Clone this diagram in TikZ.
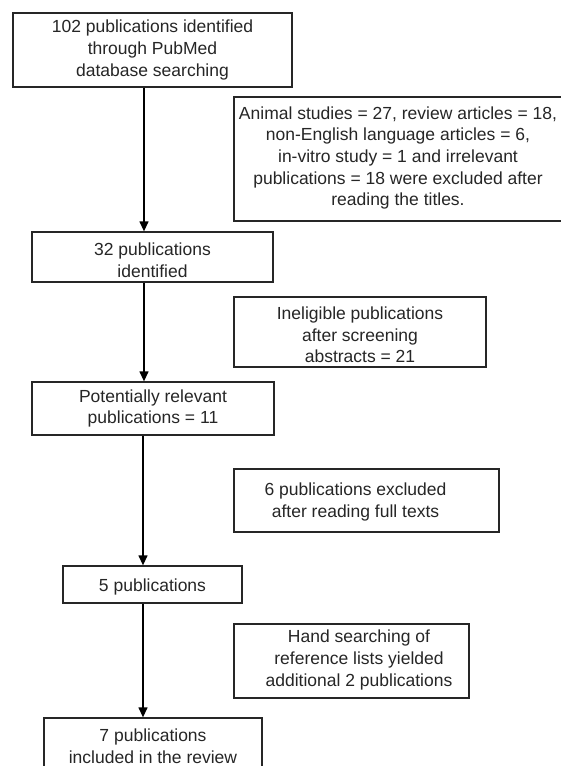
\documentclass[tikz,border=0pt]{standalone}
\usepackage{fontspec}
\setmainfont{Liberation Sans}
\usetikzlibrary{arrows.meta}
\definecolor{txtc}{HTML}{262626}
\tikzset{
  frame/.style={draw=black!85, line width=1.3pt, inner sep=0pt, fill=white},
  txt/.style={text=txtc, align=center, inner sep=0pt, font=\fontsize{17.5}{21.7}\selectfont},
  arr/.style={draw=black, line width=1.3pt, -{Triangle[length=10pt,width=9pt]}}
}
\newcommand{\boxat}[5]{% name, x1, y1, x2, y2
  \node[frame, minimum width={#4-#2}, minimum height={#5-#3}] (#1) at ({(#2+#4)/2},{(#3+#5)/2}) {};}
\begin{document}
\begin{tikzpicture}[x=1pt,y=-1pt]
\useasboundingbox (0,0) rectangle (561,766);
\boxat{b1}{13}{13}{292}{87}
\boxat{b2}{234}{97}{564}{221}
\boxat{b3}{32}{232}{273}{282}
\boxat{e2}{234}{297}{486}{367}
\boxat{b4}{32}{382}{274}{435}
\boxat{e3}{234}{469}{499}{532}
\boxat{b5}{63}{566}{242}{603}
\boxat{e4}{234}{624}{469}{698}
\boxat{b6}{44}{718}{262}{778}
\node[txt] (t1) at (152.5,50) {102 publications identified\\through PubMed\\database searching};
\node[txt] (t2) at (398,158) {Animal studies = 27, review articles = 18,\\non-English language articles = 6,\\in-vitro study = 1 and irrelevant\\publications = 18 were excluded after\\reading the titles.};
\node[txt] (t3) at (152.5,260) {32 publications\\identified};
\node[txt] (t4) at (360,335) {Ineligible publications\\after screening\\abstracts = 21};
\node[txt] (t5) at (153,408.5) {Potentially relevant\\publications = 11};
\node[txt] (t6) at (355.5,502) {6 publications excluded\\after reading full texts};
\node[txt] (t7) at (152.5,587) {5 publications};
\node[txt] (t8) at (359,660) {Hand searching of\\reference lists yielded\\additional 2 publications};
\node[txt] (t9) at (153,746) {7 publications\\included in the review};
\coordinate (ax1) at (144,0);
\coordinate (ax2) at (143,0);
\draw[arr] (b1.south -| ax1) -- (b3.north -| ax1);
\draw[arr] (b3.south -| ax1) -- (b4.north -| ax1);
\draw[arr] (b4.south -| ax2) -- (b5.north -| ax2);
\draw[arr] (b5.south -| ax2) -- (b6.north -| ax2);
\end{tikzpicture}
\end{document}
